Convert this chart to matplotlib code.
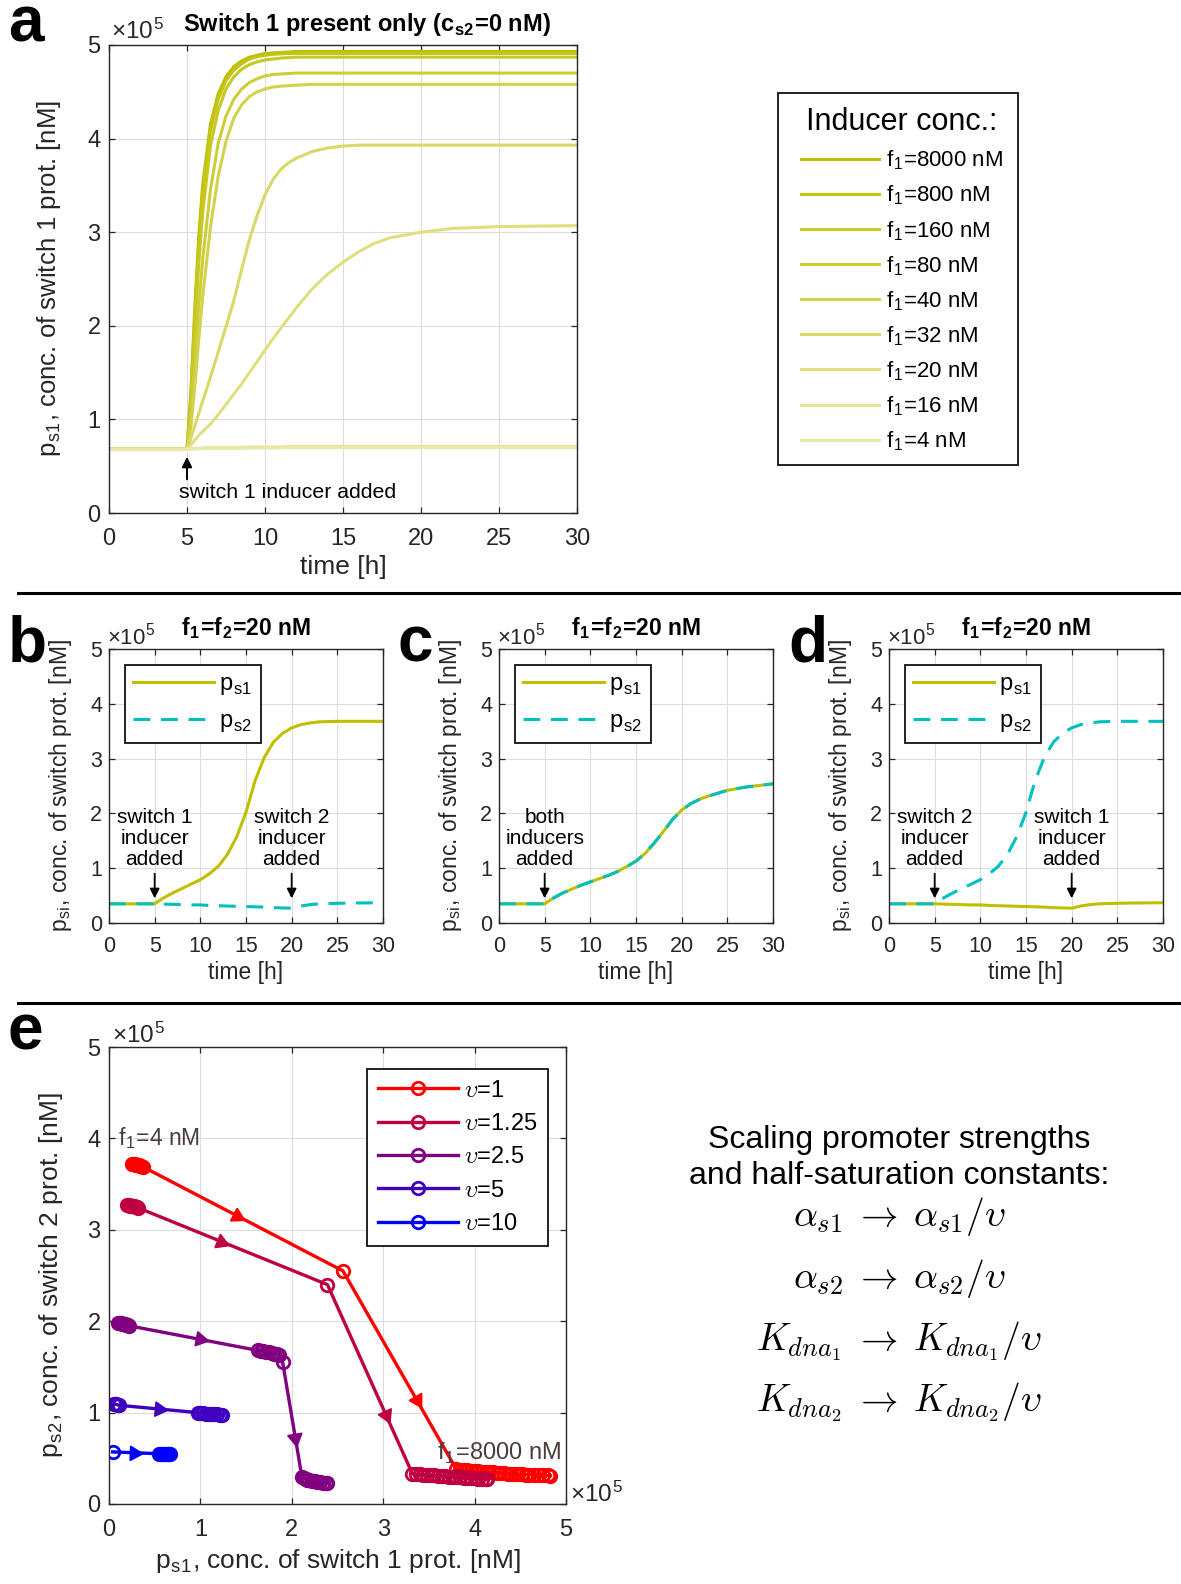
import matplotlib

matplotlib.use("Agg")
import matplotlib.pyplot as plt
from matplotlib.lines import Line2D
from matplotlib.patches import Rectangle
import numpy as np

plt.rcParams["font.family"] = ["Liberation Sans", "DejaVu Sans"]
plt.rcParams["mathtext.fontset"] = "cm"

W, H = 1181, 1584

# ---------------- panel a: switch 1 alone, values in units of 1e5 nM ----------------
T_A = [0, 5, 5.25, 5.5, 5.75, 6, 6.5, 7, 7.5, 8, 8.5, 9, 9.5, 10, 10.5, 11, 11.5, 12,
       13, 14, 15, 16, 17, 18, 20, 22, 25, 30]
F1_LABELS = ["8000", "800", "160", "80", "40", "32", "20", "16", "4"]
PS1_F8000 = [0.68, 0.68, 1.3, 2.2, 2.95, 3.5, 4.15, 4.48, 4.66, 4.77, 4.83, 4.87, 4.89, 4.91, 4.915, 4.92, 4.925, 4.93,
             4.93, 4.93, 4.93, 4.93, 4.93, 4.93, 4.93, 4.93, 4.93, 4.93]
PS1_F800 = [0.68, 0.68, 1.25, 2.1, 2.85, 3.4, 4.08, 4.42, 4.62, 4.73, 4.8, 4.85, 4.875, 4.89, 4.9, 4.905, 4.91, 4.91,
            4.91, 4.91, 4.91, 4.91, 4.91, 4.91, 4.91, 4.91, 4.91, 4.91]
PS1_F160 = [0.68, 0.68, 1.15, 1.95, 2.65, 3.2, 3.92, 4.3, 4.53, 4.66, 4.74, 4.79, 4.82, 4.84, 4.85, 4.86, 4.865, 4.87,
            4.87, 4.87, 4.87, 4.87, 4.87, 4.87, 4.87, 4.87, 4.87, 4.87]
PS1_F80 = [0.68, 0.68, 1.0, 1.6, 2.2, 2.7, 3.45, 3.95, 4.24, 4.42, 4.53, 4.6, 4.64, 4.67, 4.685, 4.69, 4.695, 4.7,
           4.7, 4.7, 4.7, 4.7, 4.7, 4.7, 4.7, 4.7, 4.7, 4.7]
PS1_F40 = [0.68, 0.68, 0.92, 1.35, 1.85, 2.3, 3.05, 3.6, 3.97, 4.22, 4.36, 4.45, 4.5, 4.53, 4.55, 4.56, 4.565, 4.57,
           4.58, 4.58, 4.58, 4.58, 4.58, 4.58, 4.58, 4.58, 4.58, 4.58]
PS1_F32 = [0.68, 0.68, 0.8, 0.93, 1.06, 1.19, 1.45, 1.72, 1.99, 2.27, 2.6, 2.92, 3.18, 3.4, 3.56, 3.67, 3.74, 3.79,
           3.86, 3.9, 3.92, 3.93, 3.93, 3.93, 3.93, 3.93, 3.93, 3.93]
PS1_F20 = [0.68, 0.68, 0.73, 0.78, 0.83, 0.87, 0.95, 1.05, 1.16, 1.27, 1.38, 1.5, 1.62, 1.74, 1.86, 1.97, 2.08, 2.19,
           2.39, 2.55, 2.68, 2.79, 2.88, 2.94, 3.0, 3.04, 3.06, 3.07]
PS1_F16 = [0.68, 0.68, 0.685, 0.69, 0.69, 0.695, 0.7, 0.7, 0.7, 0.7, 0.7, 0.705, 0.705, 0.705, 0.705, 0.705, 0.71, 0.71,
           0.71, 0.71, 0.71, 0.71, 0.71, 0.71, 0.71, 0.71, 0.71, 0.71]
PS1_F4 = [0.68, 0.68, 0.682, 0.684, 0.686, 0.688, 0.69, 0.69, 0.69, 0.69, 0.69, 0.695, 0.695, 0.695, 0.695, 0.695, 0.7, 0.7,
          0.7, 0.7, 0.7, 0.7, 0.7, 0.7, 0.7, 0.7, 0.7, 0.7]
A_CURVES = [PS1_F8000, PS1_F800, PS1_F160, PS1_F80, PS1_F40, PS1_F32, PS1_F20, PS1_F16, PS1_F4]
A_SHADES = [1.0, 0.93, 0.86, 0.78, 0.7, 0.6, 0.5, 0.42, 0.34]

# ---------------- panels b-d: f1 = f2 = 20 nM ----------------
T_B = [0, 5, 6, 7, 8, 9, 10, 11, 12, 13, 14, 15, 16, 17, 18, 19, 20, 21, 22, 23, 25, 27, 30]
PS_B1 = [0.35, 0.35, 0.46, 0.55, 0.63, 0.71, 0.79, 0.9, 1.04, 1.26, 1.58, 2.02, 2.6, 3.02, 3.3, 3.46, 3.56, 3.62, 3.65, 3.67, 3.68, 3.68, 3.68]
PS_B2 = [0.35, 0.35, 0.345, 0.34, 0.335, 0.33, 0.33, 0.32, 0.315, 0.31, 0.305, 0.3, 0.295, 0.29, 0.28, 0.275, 0.27, 0.31, 0.335, 0.35, 0.36, 0.365, 0.37]
PS_C = [0.35, 0.35, 0.46, 0.55, 0.62, 0.69, 0.75, 0.81, 0.87, 0.94, 1.03, 1.13, 1.27, 1.46, 1.67, 1.89, 2.06, 2.18, 2.26, 2.32, 2.42, 2.48, 2.54]
# panel d is the mirror of panel b (switch 2 induced first)
PS_D1 = PS_B2
PS_D2 = PS_B1

# ---------------- panel e: steady states over f1, values in units of 1e5 nM ----------------
E_UPS = ["1", "1.25", "2.5", "5", "10"]
E_COLORS = ["#ff0000", "#bf0040", "#800080", "#4000bf", "#0000ff"]
E_PS1 = [
    [0.25, 0.265, 0.28, 0.295, 0.31, 0.325, 0.34, 0.355, 0.37, 2.56,
     3.8, 3.84, 3.88, 3.92, 3.96, 4.0, 4.04, 4.08, 4.12, 4.16, 4.2, 4.24, 4.28, 4.32, 4.36,
     4.4, 4.44, 4.48, 4.52, 4.56, 4.6, 4.65, 4.7, 4.75, 4.8, 4.83],
    [0.2, 0.215, 0.23, 0.245, 0.26, 0.275, 0.29, 0.305, 0.32, 2.39,
     3.32, 3.36, 3.4, 3.44, 3.48, 3.52, 3.56, 3.6, 3.64, 3.68, 3.72, 3.76, 3.8, 3.84, 3.88,
     3.92, 3.96, 4.0, 4.04, 4.08, 4.12, 4.14],
    [0.1, 0.115, 0.13, 0.145, 0.16, 0.175, 0.19, 0.205, 0.22,
     1.63, 1.66, 1.69, 1.72, 1.75, 1.78, 1.81, 1.84, 1.86, 1.9,
     2.11, 2.13, 2.15, 2.17, 2.19, 2.22, 2.25, 2.28, 2.31, 2.34, 2.37, 2.39],
    [0.05, 0.065, 0.08, 0.095, 0.11, 0.97, 1.0, 1.03, 1.06, 1.09, 1.12, 1.15, 1.18, 1.21, 1.24],
    [0.04, 0.55, 0.57, 0.59, 0.61, 0.63, 0.65, 0.67],
]
E_PS2 = [
    [3.72, 3.72, 3.715, 3.71, 3.71, 3.705, 3.7, 3.695, 3.69, 2.55,
     0.38, 0.375, 0.37, 0.367, 0.364, 0.36, 0.357, 0.354, 0.351, 0.348, 0.345, 0.342, 0.339, 0.336, 0.333,
     0.33, 0.328, 0.326, 0.324, 0.322, 0.32, 0.318, 0.316, 0.314, 0.312, 0.31],
    [3.27, 3.27, 3.265, 3.26, 3.26, 3.255, 3.25, 3.245, 3.24, 2.4,
     0.33, 0.327, 0.324, 0.321, 0.318, 0.315, 0.312, 0.309, 0.306, 0.303, 0.3, 0.297, 0.294, 0.291, 0.288,
     0.285, 0.282, 0.279, 0.276, 0.273, 0.271, 0.27],
    [1.98, 1.98, 1.975, 1.97, 1.97, 1.965, 1.96, 1.955, 1.95,
     1.68, 1.675, 1.67, 1.665, 1.66, 1.65, 1.645, 1.64, 1.63, 1.55,
     0.3, 0.285, 0.275, 0.265, 0.258, 0.252, 0.247, 0.243, 0.239, 0.235, 0.232, 0.23],
    [1.09, 1.09, 1.09, 1.085, 1.08, 1.0, 1.0, 0.995, 0.99, 0.99, 0.985, 0.98, 0.98, 0.975, 0.97],
    [0.57, 0.55, 0.55, 0.548, 0.546, 0.545, 0.544, 0.542],
]
# where along each long segment the direction arrow sits
E_ARROW_FRAC = [[0.47, 0.65], [0.44, 0.69], [0.55, 0.66], [0.51], [0.46]]

YELLOW = np.array([0.75, 0.75, 0.0])
CYAN = "#00bfbf"
DARK = "#262626"


def rect(l, t, r, b):
    return [l / W, 1 - b / H, (r - l) / W, (b - t) / H]


def shade(c, a):
    return tuple(a * np.asarray(c) + (1 - a) * np.ones(3))


def style_axes(ax, xlim, ylim, xticks, yticks, fs, xpad, ypad):
    ax.set_xlim(xlim)
    ax.set_ylim(ylim)
    ax.set_xticks(xticks)
    ax.set_yticks(yticks)
    ax.grid(True, color="#dcdcdc", lw=0.8)
    ax.set_axisbelow(True)
    ax.tick_params(direction="in", top=True, right=True, length=4, width=0.9,
                   colors=DARK, labelsize=fs)
    ax.tick_params(axis="x", pad=xpad)
    ax.tick_params(axis="y", pad=ypad)
    for s in ax.spines.values():
        s.set_color(DARK)
        s.set_linewidth(1.0)


def frame(leg):
    f = leg.get_frame()
    f.set_edgecolor("#111111")
    f.set_linewidth(1.3)


def sub(s):
    return "$_{\\mathregular{" + s + "}}$"


X10 = "×10$^{\\mathregular{5}}$"

fig = plt.figure(figsize=(W / 100, H / 100), dpi=100)

# ---------------- panel a ----------------
ax = fig.add_axes(rect(109, 45, 577, 513))
for lab, vals, a in zip(F1_LABELS, A_CURVES, A_SHADES):
    ax.plot(T_A, vals, color=shade(YELLOW, a), lw=2.2, label="f" + sub("1") + "=" + lab + " nM")
style_axes(ax, (0, 30), (0, 5), range(0, 31, 5), range(0, 6), 17, 11, 6)
ax.set_xlabel("time [h]", fontsize=19, color=DARK)
ax.xaxis.set_label_coords(0.5, -0.09)
ax.set_ylabel("p" + sub("s1") + ", conc. of switch 1 prot. [nM]", fontsize=18.5, color=DARK)
ax.yaxis.set_label_coords(-0.098, 0.5)
ax.annotate("", xy=(5, 0.6), xytext=(5, 0.36),
            arrowprops=dict(arrowstyle="-|>", color="k", lw=1.4, mutation_scale=15, shrinkA=0, shrinkB=0))
ax.text(4.5, 0.22, "switch 1 inducer added", fontsize=15.3, ha="left", va="center")
# the legend box of panel a is wider than its content, so its frame is drawn separately
leg = ax.legend(loc="upper left", bbox_to_anchor=(789 / W, 1 - 95 / H), bbox_transform=fig.transFigure,
                borderaxespad=0, fontsize=16, title="Inducer conc.:", title_fontsize=22,
                handlelength=3.5, handletextpad=0.3, labelspacing=0.51, borderpad=0.55,
                frameon=False)
fig.add_artist(Rectangle((778 / W, 1 - 465 / H), 240 / W, 372 / H, transform=fig.transFigure,
                         fill=False, edgecolor="#111111", lw=1.3))
fig.text(111 / W, 1 - 31 / H, X10, fontsize=17.5, color=DARK, va="center")
fig.text(367 / W, 1 - 25 / H, "Switch 1 present only (c" + sub("s2") + "=0 nM)",
         fontsize=17, fontweight="bold", ha="center", va="center")

# ---------------- panels b, c, d ----------------
bcd = [
    (109, PS_B1, PS_B2, [(5, "switch 1\ninducer\nadded"), (20, "switch 2\ninducer\nadded")], "b"),
    (499, PS_C, PS_C, [(5, "both\ninducers\nadded")], "c"),
    (889, PS_D1, PS_D2, [(5, "switch 2\ninducer\nadded"), (20, "switch 1\ninducer\nadded")], "d"),
]
for left, p1, p2, notes, letter in bcd:
    ax = fig.add_axes(rect(left, 649, left + 274, 923))
    ax.plot(T_B, p1, color=shade(YELLOW, 1.0), lw=2.2, label="p" + sub("s1"))
    ax.plot(T_B, p2, color=CYAN, lw=2.2, dashes=(5.5, 3.5), label="p" + sub("s2"))
    style_axes(ax, (0, 30), (0, 5), range(0, 31, 5), range(0, 6), 15.5, 9, 5)
    ax.set_xlabel("time [h]", fontsize=16.5, color=DARK)
    ax.xaxis.set_label_coords(0.5, -0.14)
    ax.set_ylabel("p" + sub("si") + ", conc. of switch prot. [nM]", fontsize=16.5, color=DARK)
    ax.yaxis.set_label_coords(-0.128, 0.5)
    for tx, txt in notes:
        ax.text(tx, 1.54, txt, fontsize=15, ha="center", va="center", linespacing=1.15)
        ax.annotate("", xy=(tx, 0.45), xytext=(tx, 0.9),
                    arrowprops=dict(arrowstyle="-|>", color="k", lw=1.3, mutation_scale=14, shrinkA=0, shrinkB=0))
    leg = ax.legend(loc="upper left", bbox_to_anchor=((left + 16) / W, 1 - 665 / H),
                    bbox_transform=fig.transFigure, borderaxespad=0, fontsize=17,
                    handlelength=3.4, handletextpad=0.25, labelspacing=0.55, borderpad=0.35,
                    fancybox=False, framealpha=1)
    frame(leg)
    fig.text((left - 2) / W, 1 - 637 / H, X10, fontsize=16, color=DARK, va="center")
    fig.text((left + 137) / W, 1 - 628 / H, "f" + sub("1") + "=f" + sub("2") + "=20 nM",
             fontsize=16.5, fontweight="bold", ha="center", va="center")
    fig.text((left - 101) / W, 1 - 662 / H, letter, fontsize=46, fontweight="bold", va="baseline")

# ---------------- panel e ----------------
ax = fig.add_axes(rect(109, 1047, 566, 1504))
style_axes(ax, (0, 5), (0, 5), range(0, 6), range(0, 6), 17, 11, 6)
for ups, col, xs, ys, fracs in zip(E_UPS, E_COLORS, E_PS1, E_PS2, E_ARROW_FRAC):
    ax.plot(xs, ys, "-o", color=col, lw=2.4, ms=9, mfc="none", mew=2,
            label="$\\upsilon$=" + ups)
    long_segs = [i for i in range(len(xs) - 1) if np.hypot(xs[i + 1] - xs[i], ys[i + 1] - ys[i]) > 0.4]
    for i, fr in zip(long_segs, fracs):
        p0 = np.array([xs[i], ys[i]])
        p1 = np.array([xs[i + 1], ys[i + 1]])
        d0, d1 = ax.transData.transform(p0), ax.transData.transform(p1)
        ang = np.degrees(np.arctan2(d1[1] - d0[1], d1[0] - d0[0]))
        pm = p0 + fr * (p1 - p0)
        ax.plot(pm[0], pm[1], marker=(3, 0, ang - 90), ms=12, color=col, mec=col, zorder=4)
ax.text(0.1, 4.0, "f" + sub("1") + "=4 nM", fontsize=16.5, color="#4b3c3c", ha="left", va="center")
ax.text(4.95, 0.55, "f" + sub("1") + "=8000 nM", fontsize=17, color="#4b3c3c", ha="right", va="center")
ax.set_xlabel("p" + sub("s1") + ", conc. of switch 1 prot. [nM]", fontsize=19, color=DARK)
ax.xaxis.set_label_coords(0.5, -0.095)
ax.set_ylabel("p" + sub("s2") + ", conc. of switch 2 prot. [nM]", fontsize=19, color=DARK)
ax.yaxis.set_label_coords(-0.096, 0.5)
leg = ax.legend(loc="upper left", bbox_to_anchor=(367 / W, 1 - 1069 / H), bbox_transform=fig.transFigure,
                borderaxespad=0, fontsize=17, handlelength=3.4, handletextpad=0.25,
                labelspacing=0.48, borderpad=0.45, fancybox=False, framealpha=1)
frame(leg)
fig.text(112 / W, 1 - 1035 / H, X10, fontsize=17.5, color=DARK, va="center")
fig.text(570 / W, 1 - 1494 / H, X10, fontsize=17.5, color=DARK, va="center")

fig.text(899 / W, 1 - 1158 / H, "Scaling promoter strengths\nand half-saturation constants:",
         fontsize=23, ha="center", va="center", linespacing=1.3)
eqs = [r"$\alpha_{s1}\;\rightarrow\;\alpha_{s1}/\upsilon$",
       r"$\alpha_{s2}\;\rightarrow\;\alpha_{s2}/\upsilon$",
       r"$K_{dna_1}\;\rightarrow\;K_{dna_1}/\upsilon$",
       r"$K_{dna_2}\;\rightarrow\;K_{dna_2}/\upsilon$"]
for y, eq in zip([1217, 1279, 1341, 1402], eqs):
    fig.text(899 / W, 1 - y / H, eq, fontsize=27, ha="center", va="center")

# panel letters and separators
fig.text(8 / W, 1 - 42 / H, "a", fontsize=46, fontweight="bold", va="baseline")
fig.text(8 / W, 1 - 1050 / H, "e", fontsize=46, fontweight="bold", va="baseline")
for y in (593, 1003):
    fig.add_artist(Line2D([18 / W, 1.0], [1 - y / H, 1 - y / H], transform=fig.transFigure, color="k", lw=2.2))

fig.savefig("out.png", dpi=100)
